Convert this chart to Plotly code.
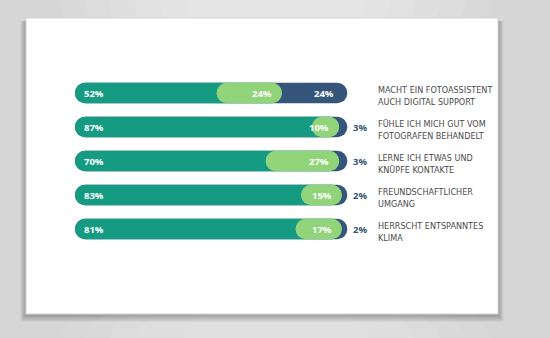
import plotly.graph_objects as go

# ---------------- data ----------------
categories = [
    "MACHT EIN FOTOASSISTENT<br>AUCH DIGITAL SUPPORT",
    "FÜHLE ICH MICH GUT VOM<br>FOTOGRAFEN BEHANDELT",
    "LERNE ICH ETWAS UND<br>KNÜPFE KONTAKTE",
    "FREUNDSCHAFTLICHER<br>UMGANG",
    "HERRSCHT ENTSPANNTES<br>KLIMA",
]
teal_vals = [52, 87, 70, 83, 81]
green_vals = [24, 10, 27, 15, 17]
blue_vals = [24, 3, 3, 2, 2]

# ---------------- style ----------------
TEAL = "#149b82"
GREEN = "#92d47a"
BLUE = "#35557a"
TXT = "#4b4b4b"
W, H = 550, 338
PX_PER_UNIT = 2.723
X0_PX = 75
xmin = -X0_PX / PX_PER_UNIT
xmax = xmin + W / PX_PER_UNIT
ROW_PX = 34
FIRST_ROW_PX = 93
ytop = -FIRST_ROW_PX / ROW_PX
ybot = ytop + H / ROW_PX
BAR_W = 20.5 / ROW_PX

idx = list(range(len(categories)))
fig = go.Figure()


def pill(start, end, color):
    fig.add_trace(go.Bar(
        y=idx, base=start, x=[e - s for s, e in zip(start, end)],
        orientation="h", width=BAR_W,
        marker=dict(color=color, cornerradius="50%", line=dict(width=0)),
        hoverinfo="skip", showlegend=False))


totals = [t + g + b for t, g, b in zip(teal_vals, green_vals, blue_vals)]
tg = [t + g for t, g in zip(teal_vals, green_vals)]
pill([0] * 5, totals, BLUE)
pill([0] * 5, tg, TEAL)
pill(teal_vals, tg, GREEN)

LABEL_FONT = "Open Sans, Roboto, sans-serif"
ann = []
for i in idx:
    ann.append(dict(x=2.5, y=i, xref="x", yref="y", text=f"<b>{teal_vals[i]}%</b>",
                    xanchor="left", showarrow=False,
                    font=dict(family=LABEL_FONT, size=9.5, color="white")))
    ann.append(dict(x=tg[i] - 3.0, y=i, xref="x", yref="y", text=f"<b>{green_vals[i]}%</b>",
                    xanchor="right", showarrow=False,
                    font=dict(family=LABEL_FONT, size=9.5, color="white")))
    if blue_vals[i] >= 10:
        ann.append(dict(x=totals[i] - 4.0, y=i, xref="x", yref="y", text=f"<b>{blue_vals[i]}%</b>",
                        xanchor="right", showarrow=False,
                        font=dict(family=LABEL_FONT, size=9.5, color="white")))
    else:
        ann.append(dict(x=totals[i] + 1.2, y=i, xref="x", yref="y", text=f"<b>{blue_vals[i]}%</b>",
                        xanchor="left", showarrow=False,
                        font=dict(family=LABEL_FONT, size=9.5, color=BLUE)))
    ann.append(dict(x=110.5, y=i + 0.09, xref="x", yref="y", text=categories[i],
                    xanchor="left", align="left", showarrow=False,
                    font=dict(family="Liberation Sans Narrow, DejaVu Sans Condensed, sans-serif",
                              size=9, color=TXT)))

# ---------------- background card ----------------
def px_rect(x0, y0, x1, y1, **kw):
    return dict(type="rect", xref="paper", yref="paper", layer="below",
                x0=x0 / W, x1=x1 / W, y0=1 - y1 / H, y1=1 - y0 / H, **kw)

def px_ell(x0, y0, x1, y1, **kw):
    return dict(type="circle", xref="paper", yref="paper", layer="below",
                x0=x0 / W, x1=x1 / W, y0=1 - y1 / H, y1=1 - y0 / H, **kw)

shapes = []
# light glow in background
for k in range(6):
    shapes.append(px_ell(60 + k * 25, -60 + k * 4, 490 - k * 25, 70 - k * 4,
                         fillcolor="white", opacity=0.09, line=dict(width=0)))
    shapes.append(px_ell(60 + k * 25, 280 + k * 4, 490 - k * 25, 400 - k * 4,
                         fillcolor="white", opacity=0.06, line=dict(width=0)))
# shadow
CX0, CY0, CX1, CY1 = 26, 18, 498, 314
for s in range(1, 8):
    shapes.append(px_rect(CX0 - s * 0.8, CY0 + 3, CX1 + s * 0.8, CY1 + 1 + s,
                          fillcolor="black", opacity=0.04, line=dict(width=0)))
# card
shapes.append(px_rect(CX0, CY0, CX1, CY1, fillcolor="white",
                      line=dict(color="#d4d4d4", width=1)))

fig.update_layout(
    width=W, height=H, margin=dict(l=0, r=0, t=0, b=0),
    paper_bgcolor="#d6d6d6", plot_bgcolor="rgba(0,0,0,0)",
    barmode="overlay", showlegend=False,
    xaxis=dict(range=[xmin, xmax], visible=False, fixedrange=True),
    yaxis=dict(range=[ybot, ytop], visible=False, fixedrange=True),
    annotations=ann, shapes=shapes,
)

fig.write_html("out.html", config={"displayModeBar": False})
